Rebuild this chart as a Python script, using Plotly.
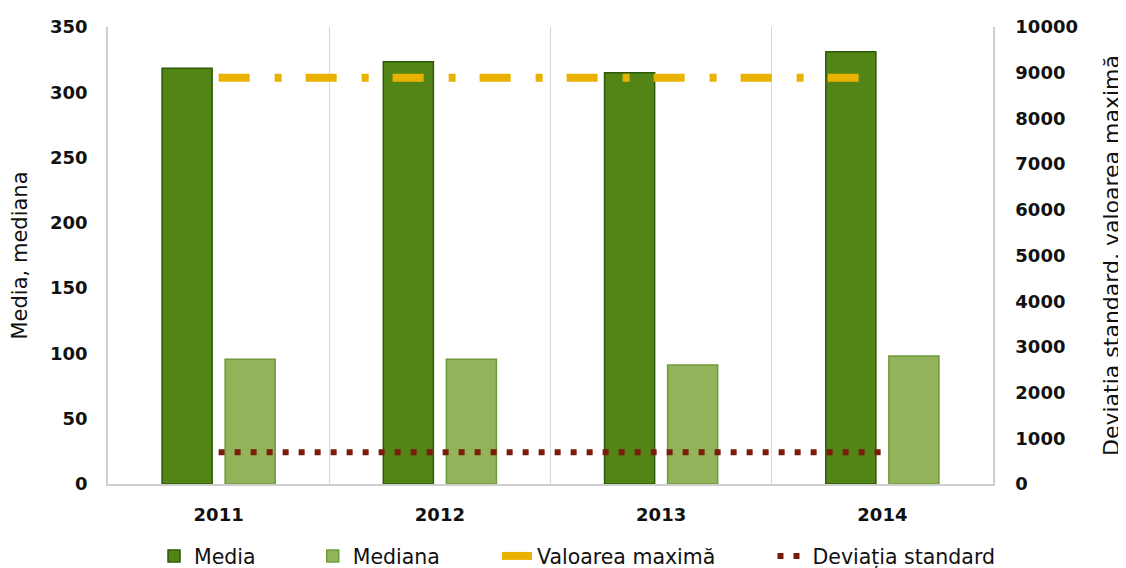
import plotly.graph_objects as go

years = ["2011", "2012", "2013", "2014"]
media = [318.4, 323.4, 315.0, 331.1]
mediana = [95.5, 95.5, 91.1, 98.0]
valoarea_maxima = [8890, 8890, 8890, 8890]
deviatia_standard = [694, 694, 694, 694]

left_ticks = [0, 50, 100, 150, 200, 250, 300, 350]
right_ticks = [0, 1000, 2000, 3000, 4000, 5000, 6000, 7000, 8000, 9000, 10000]
right_tick_text = [str(v) for v in right_ticks]

FONT = "DejaVu Sans"
PAD = "\u00a0" * 8

fig = go.Figure()
fig.add_trace(go.Bar(
    x=years, y=media, name="Media" + PAD,
    marker=dict(color="#538516", line=dict(color="#2c5a08", width=1.5)),
))
fig.add_trace(go.Bar(
    x=years, y=mediana, name="Mediana" + PAD,
    marker=dict(color="#92b35a", line=dict(color="#6f9a3c", width=1.5)),
))
fig.add_trace(go.Scatter(
    x=years, y=valoarea_maxima, name="Valoarea maximă" + PAD, yaxis="y2",
    mode="lines", line=dict(color="#eab200", width=8, dash="31px,25px,7px,24px"),
))
fig.add_trace(go.Scatter(
    x=years, y=deviatia_standard, name="Deviația standard", yaxis="y2",
    mode="lines", line=dict(color="#7b1b0b", width=6, dash="6px,10px"),
))

# page body has an 8px margin, so the figure is sized/positioned to compensate
fig.update_layout(
    width=1118, height=560,
    margin=dict(l=100, r=133, t=19, b=84, autoexpand=False),
    paper_bgcolor="white", plot_bgcolor="white",
    barmode="group", bargap=0.43, bargroupgap=0.206,
    font=dict(family=FONT, color="#111111"),
    showlegend=True,
    legend=dict(
        orientation="h", x=0.052, xanchor="left", y=-0.114, yanchor="top",
        font=dict(family=FONT, size=20.5, color="#111111"),
        traceorder="normal",
    ),
    xaxis=dict(
        type="category", tickson="boundaries", automargin=False,
        showgrid=True, gridcolor="#d6d6d6", gridwidth=1,
        showline=True, linecolor="#cfcfcf", linewidth=1.5,
        ticks="", ticklabelstandoff=14,
        tickfont=dict(family=FONT, size=18, color="#111111", weight="bold"),
    ),
    yaxis=dict(
        range=[0, 350], tickvals=left_ticks, showgrid=False, automargin=False,
        showline=True, linecolor="#cfcfcf", linewidth=1.5,
        ticks="", ticklabelstandoff=15, zeroline=False,
        tickfont=dict(family=FONT, size=18, color="#111111", weight="bold"),
        title=dict(text="Media, mediana", font=dict(family=FONT, size=21, color="#111111"), standoff=17),
    ),
    yaxis2=dict(
        range=[0, 10000], tickvals=right_ticks, ticktext=right_tick_text,
        overlaying="y", side="right", automargin=False,
        showgrid=False, showline=True, linecolor="#cfcfcf", linewidth=1.5,
        ticks="", ticklabelstandoff=17, zeroline=False,
        tickfont=dict(family=FONT, size=18, color="#111111", weight="bold"),
        title=dict(text="Deviația standard, valoarea maximă", font=dict(family=FONT, size=22, color="#111111"), standoff=27),
    ),
)

fig.write_html("out.html")
